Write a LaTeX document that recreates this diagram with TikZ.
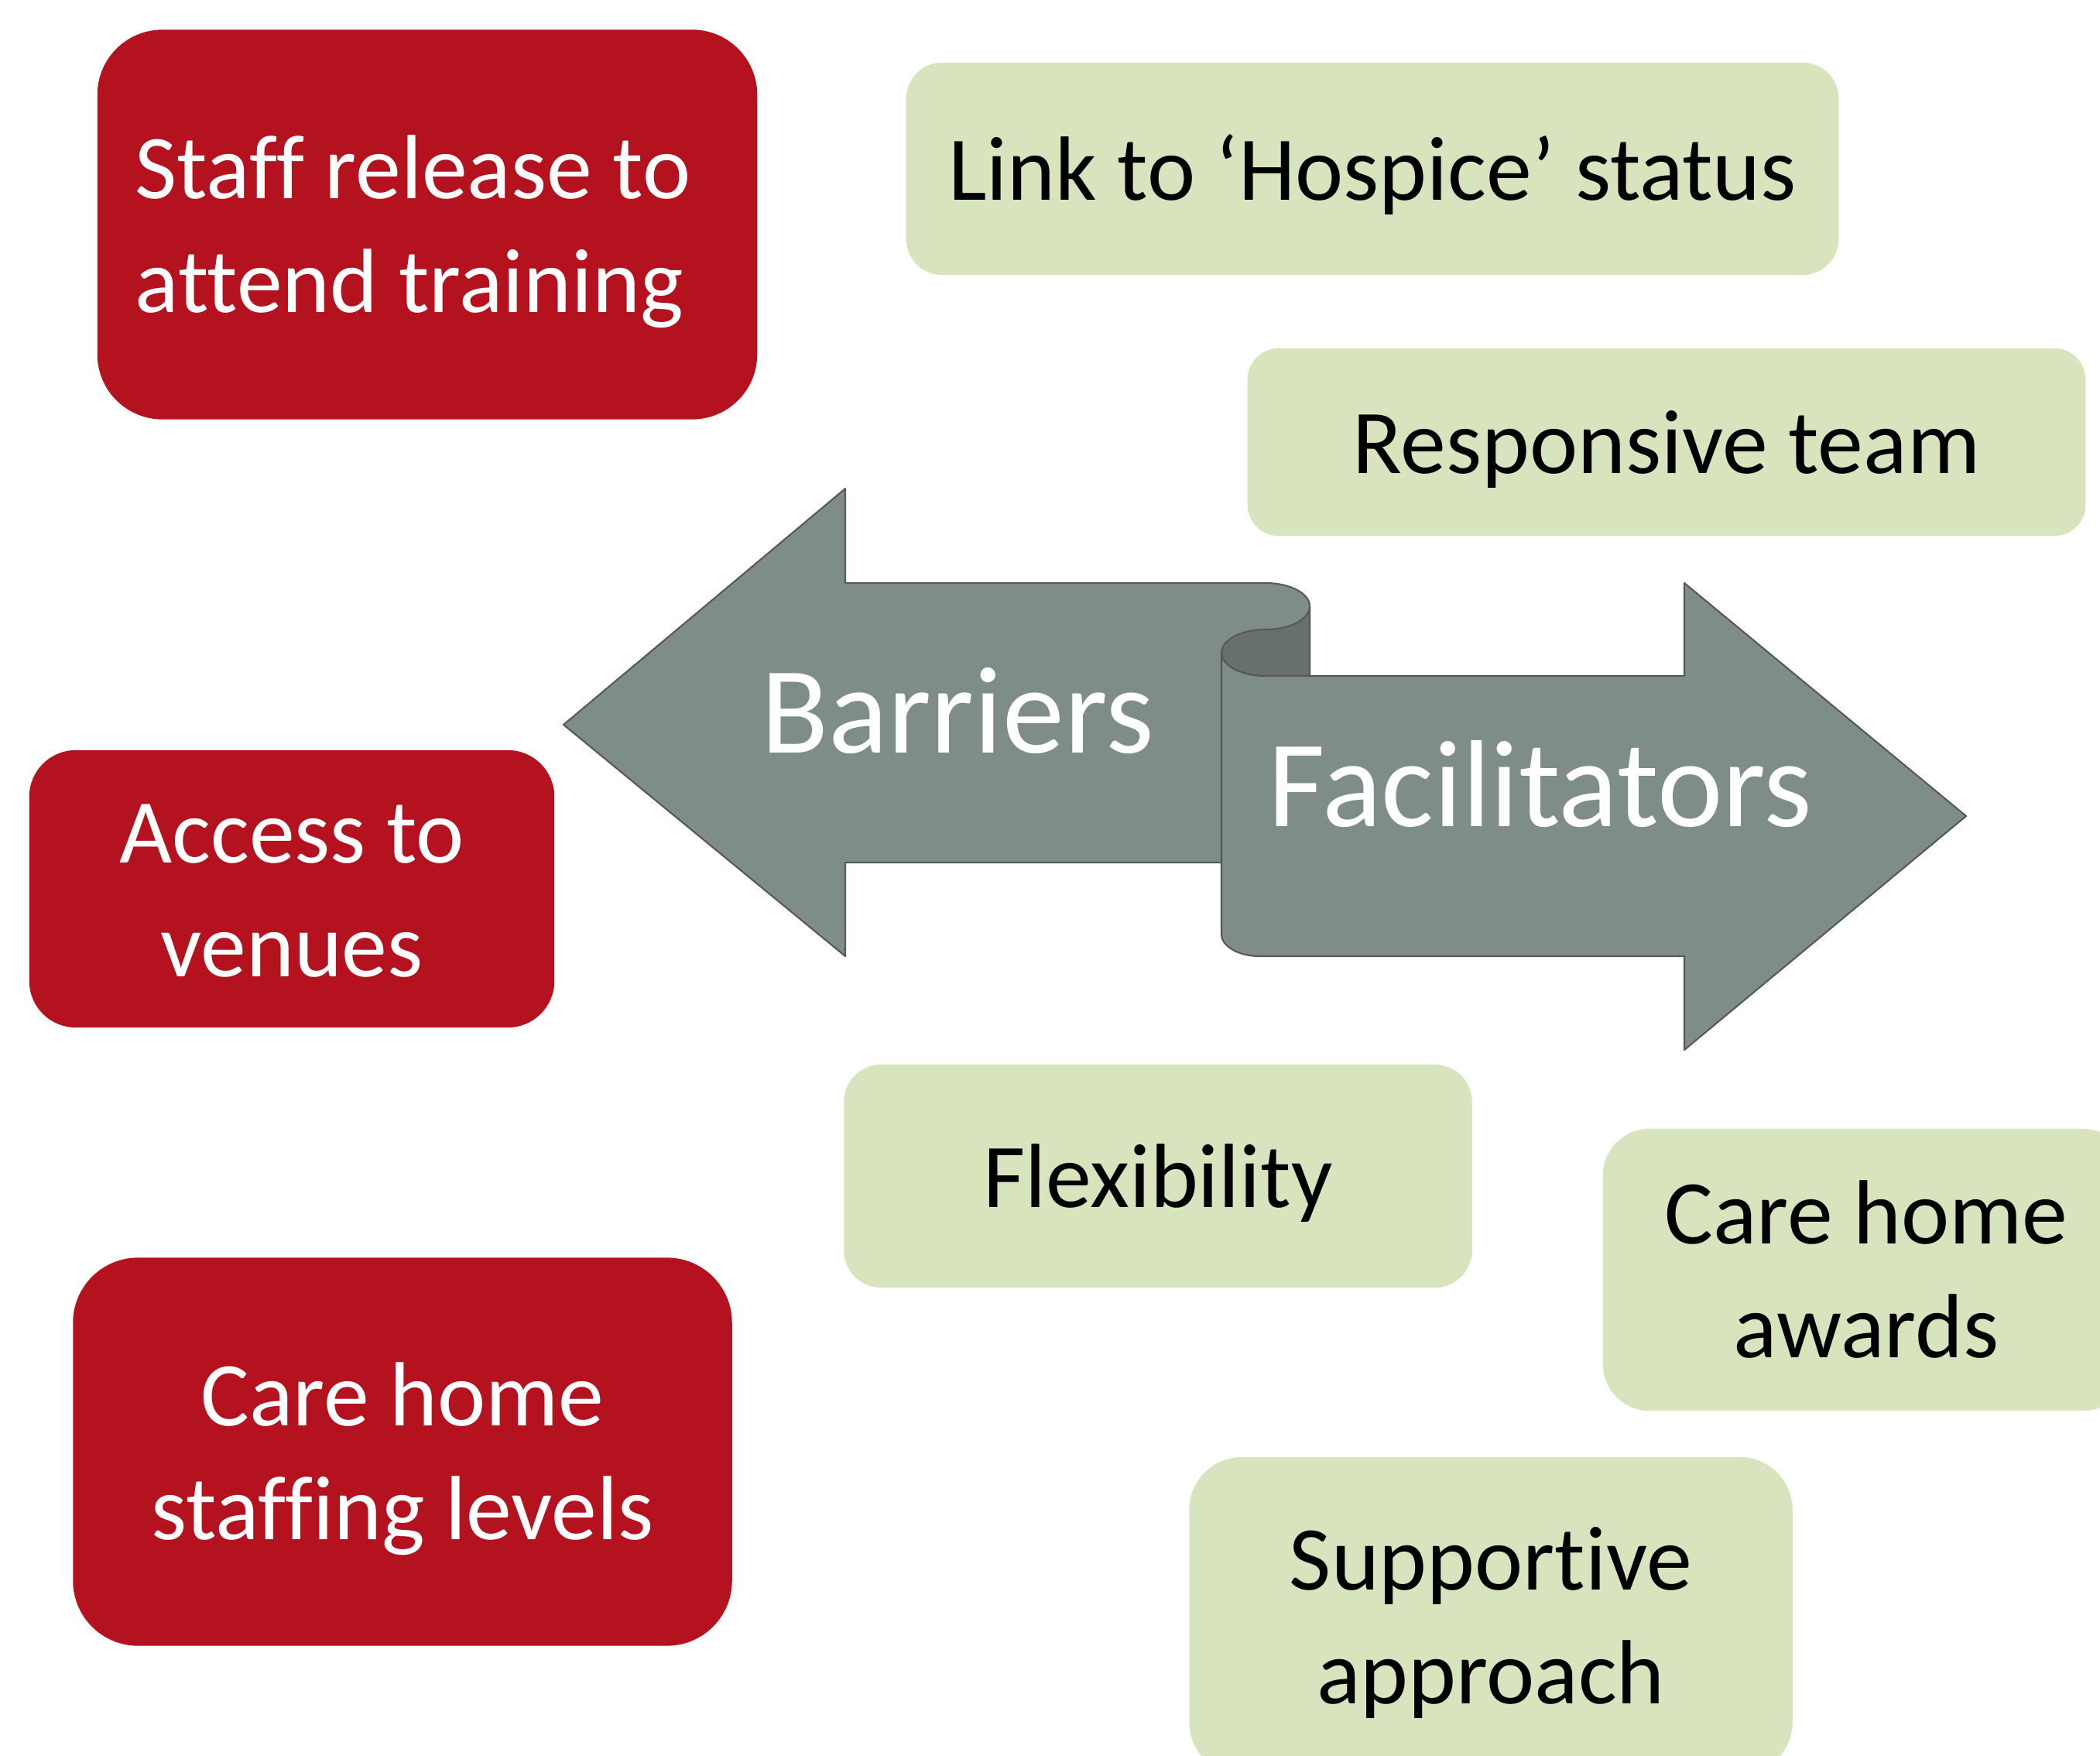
\documentclass[tikz,border=0pt]{standalone}
\usepackage{fontspec}
\setmainfont{Carlito}[Ligatures={NoCommon,NoContextual}]
\usetikzlibrary{positioning}
\definecolor{barRed}{RGB}{179,18,30}
\definecolor{facGreen}{RGB}{216,228,189}
\definecolor{arrowGrey}{RGB}{127,141,135}
\definecolor{curlGrey}{RGB}{103,112,108}
\definecolor{edgeGrey}{RGB}{88,88,88}
\newcommand*{\pageW}{2713}
\newcommand*{\pageH}{2267}
\newcommand\BoxFont{\fontsize{33.5}{39.8}\selectfont}
\newcommand\ArrowFont{\fontsize{45.5}{54}\selectfont}
% line box as PowerPoint sets it (ascent .952em, descent .269em)
\newcommand\LineStrut{\rule[-0.269em]{0pt}{1.221em}}

\begin{document}
\begin{tikzpicture}[x=0.01cm, y=-0.01cm,
	every node/.style={inner sep=0pt, outer sep=0pt},
	boxtext/.style={font=\BoxFont, align=flush center, execute at begin node=\LineStrut, execute at end node=\LineStrut},
	barrier/.style={boxtext, fill=barRed, text=white},
	facilitator/.style={boxtext, fill=facGreen, text=black},
	arrowlabel/.style={text=white, font=\ArrowFont},
	arrowbody/.style={draw=edgeGrey, line width=0.6pt, line join=round}]
	\useasboundingbox (0,0) rectangle (\pageW,\pageH);
	\clip (0,0) rectangle (\pageW,\pageH);

% opposing arrows
	\path[arrowbody, fill=arrowGrey] (728,936) -- (1092,631) -- (1092,753) -- (1635,753)
		.. controls (1666,753) and (1692,766) .. (1692,783) -- (1692,1114) -- (1092,1114) -- (1092,1235) -- cycle;
	\path[arrowbody, fill=curlGrey] (1692,783) .. controls (1692,800) and (1666,813) .. (1635,813)
		.. controls (1604,813) and (1578,826) .. (1578,843)
		.. controls (1578,860) and (1604,873) .. (1635,873) -- (1692,873) -- cycle;
	\path[arrowbody, fill=arrowGrey] (1578,843) -- (1578,1207) .. controls (1578,1222) and (1600,1235) .. (1627,1235)
		-- (2176,1235) -- (2176,1356) -- (2540,1054) -- (2176,753) -- (2176,873) -- (1635,873)
		.. controls (1604,873) and (1578,860) .. (1578,843) -- cycle;
	\node[arrowlabel] (barriers) at (1237,918) {Barriers};
	\node[arrowlabel] (facilitators) at (1990,1013) {Facilitators};

% barriers
	\node[barrier, rounded corners=0.84cm, minimum height=5.03cm, text width=7.54cm, inner xsep=0.49cm, align=flush left] (staff) at (552,290) {Staff release to\\attend training};
	\node[barrier, rounded corners=0.6cm, text width=6.78cm, minimum height=3.58cm] (access) at (377,1148) {Access to\\venues};
	\node[barrier, rounded corners=0.84cm, text width=8.51cm, minimum height=5.01cm] (staffing) at (520,1875) {Care home\\staffing levels};

% facilitators
	\node[facilitator, rounded corners=0.46cm, text width=12.04cm, minimum height=2.74cm] (hospice) at (1773,218) {Link to ‘Hospice’ status};
	\node[facilitator, rounded corners=0.4cm, text width=10.82cm, minimum height=2.42cm] (responsive) at (2153,571) {Responsive team};
	\node[facilitator, rounded corners=0.48cm, text width=8.11cm, minimum height=2.88cm] (flexibility) at (1496,1519) {Flexibility};
	\node[facilitator, rounded corners=0.6cm, text width=6.8cm, minimum height=3.64cm] (awards) at (2411,1640) {Care home\\awards};
	\node[facilitator, rounded corners=0.68cm, text width=7.79cm, minimum height=4.1cm] (supportive) at (1926,2087) {Supportive\\approach};
\end{tikzpicture}
\end{document}
